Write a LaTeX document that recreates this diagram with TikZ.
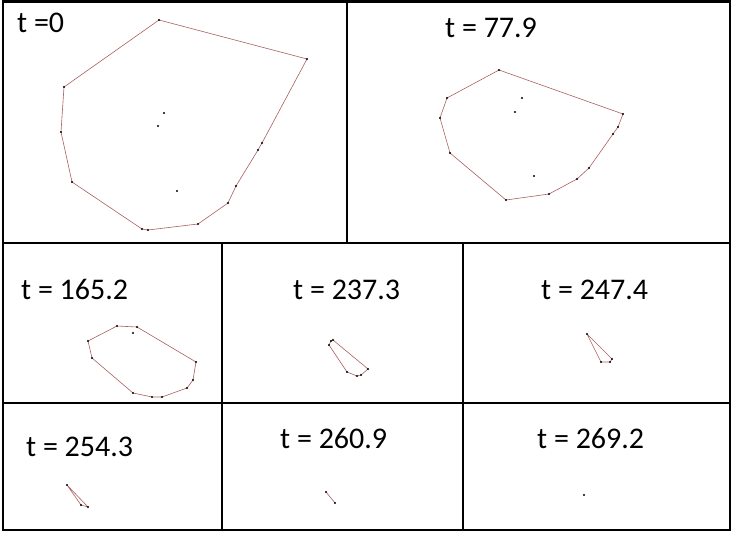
\documentclass[tikz,border=0pt]{standalone}
\usepackage{fontspec}
\setmainfont{Carlito}
\usepackage{xcolor}
\definecolor{hullred}{RGB}{170,95,95}

\begin{document}
\begin{tikzpicture}[x=1pt,y=-1pt]
\tikzstyle{frame} = [line width=2.5pt, draw=black]
\tikzstyle{hull} = [draw=hullred, line width=0.6pt, line join=round]
\tikzstyle{stamp} = [anchor=base west, inner sep=0pt, font=\fontsize{30}{36}\selectfont]

\useasboundingbox (0,0) rectangle (732,535);

\draw [frame] (3,1.5) rectangle (730,530);
\draw [frame] (3,243) -- (730,243);
\draw [frame] (3,403) -- (730,403);
\draw [frame] (347,1.5) -- (347,243);
\draw [frame] (222,243) -- (222,530);
\draw [frame] (463,243) -- (463,530);

\node (t0) [stamp] at (17,33) {t =0};
\node (t779) [stamp] at (445,38) {t = 77.9};
\node (t1652) [stamp] at (21,299) {t = 165.2};
\node (t2373) [stamp] at (293,299) {t = 237.3};
\node (t2474) [stamp] at (541,299) {t = 247.4};
\node (t2543) [stamp] at (26,456) {t = 254.3};
\node (t2609) [stamp] at (280,448) {t = 260.9};
\node (t2692) [stamp] at (537,448) {t = 269.2};

\draw [hull] (159,20) -- (307,59) -- (262,143) -- (258,150) -- (236,186) -- (228,203) -- (198,224) -- (148,230) -- (142,229) -- (72,182) -- (61,132) -- (64,87) -- cycle;
\draw [hull] (499,70) -- (623,114) -- (618,127) -- (613,134) -- (589,168) -- (577,179) -- (549,194) -- (506,200) -- (450,153) -- (440,118) -- (447,98) -- cycle;
\draw [hull] (117,326) -- (137,327) -- (196,362) -- (193,380) -- (187,388) -- (162,397) -- (152,397) -- (133,393) -- (92,358) -- (88,341) -- cycle;
\draw [hull] (333,340) -- (368,369) -- (361,375) -- (357,376) -- (347,372) -- (329,345) -- (331,341) -- cycle;
\draw [hull] (587,334) -- (612,359) -- (610,362) -- (601,362) -- cycle;
\draw [hull] (67,485) -- (88,507) -- (81,505) -- cycle;
\draw [hull] (326,492) -- (335,503);

\foreach \p in {(159,20),(307,59),(262,143),(258,150),(236,186),(228,203),(198,224),(148,230),(142,229),(72,182),(61,132),(64,87),(164,113),(158,126),(177,191)}
  \fill \p circle [radius=1.1pt];
\foreach \p in {(499,70),(623,114),(618,127),(613,134),(589,168),(577,179),(549,194),(506,200),(450,153),(440,118),(447,98),(522,98),(515,112),(534,176)}
  \fill \p circle [radius=1.1pt];
\foreach \p in {(117,326),(137,327),(196,362),(193,380),(187,388),(162,397),(152,397),(133,393),(92,358),(88,341),(133,333)}
  \fill \p circle [radius=1.1pt];
\foreach \p in {(333,340),(368,369),(361,375),(357,376),(347,372),(329,345),(331,341),(587,334),(612,359),(610,362),(601,362)}
  \fill \p circle [radius=1.1pt];
\foreach \p in {(67,485),(88,507),(81,505),(326,492),(335,503),(584,495)}
  \fill \p circle [radius=1.1pt];

\end{tikzpicture}
\end{document}
